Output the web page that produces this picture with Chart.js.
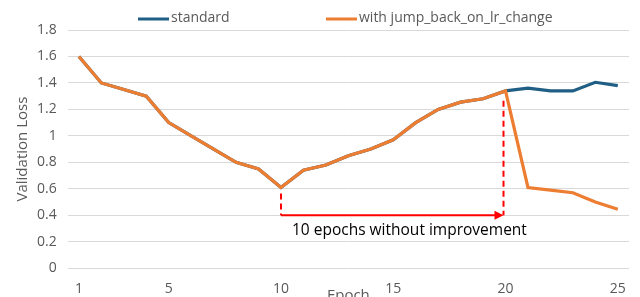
<!DOCTYPE html>
<html>
<head>
<meta charset="utf-8">
<script src="https://cdn.jsdelivr.net/npm/chart.js@4.4.1/dist/chart.umd.min.js"></script>
<style>
  html, body { margin: 0; padding: 0; background: #fff; overflow: hidden; }
  #wrap { width: 640px; height: 305px; position: relative; }
</style>
</head>
<body>
<div id="wrap"><canvas id="lossChart"></canvas></div>
<script>
const epochs = Array.from({ length: 25 }, (_, i) => String(i + 1));
const shownEpochs = ['1', '5', '10', '15', '20', '25'];

const standardLoss = [1.6, 1.4, 1.35, 1.3, 1.1, 1.0, 0.9, 0.8, 0.75, 0.61,
  0.74, 0.78, 0.85, 0.9, 0.97, 1.1, 1.2, 1.255, 1.28, 1.34,
  1.36, 1.34, 1.34, 1.405, 1.38];
const jumpBackLoss = [1.6, 1.4, 1.35, 1.3, 1.1, 1.0, 0.9, 0.8, 0.75, 0.61,
  0.74, 0.78, 0.85, 0.9, 0.97, 1.1, 1.2, 1.255, 1.28, 1.34,
  0.61, 0.59, 0.57, 0.5, 0.445];

// annotation: patience window
const bestEpoch = '10';
const stopEpoch = '20';
const arrowLevel = 0.4;
const arrowText = '10 epochs without improvement';

const FONT = "'Open Sans', 'Noto Sans', sans-serif";
const GREY = '#595959';

const annotationPlugin = {
  id: 'patience',
  afterDatasetsDraw(chart) {
    const ctx = chart.ctx;
    const x = chart.scales.x;
    const y = chart.scales.y;
    const x1 = x.getPixelForValue(epochs.indexOf(bestEpoch));
    const x2 = x.getPixelForValue(epochs.indexOf(stopEpoch)) - 2;
    const yA = y.getPixelForValue(arrowLevel);
    const y1 = y.getPixelForValue(jumpBackLoss[epochs.indexOf(bestEpoch)]) + 6;
    const y2 = y.getPixelForValue(jumpBackLoss[epochs.indexOf(stopEpoch)]) + 10;

    ctx.save();
    ctx.strokeStyle = '#ff0000';
    ctx.fillStyle = '#ff0000';
    ctx.lineWidth = 2;
    ctx.setLineDash([6, 4]);
    ctx.beginPath();
    ctx.moveTo(x1, y1); ctx.lineTo(x1, yA);
    ctx.moveTo(x2, y2); ctx.lineTo(x2, yA);
    ctx.stroke();
    ctx.setLineDash([]);
    ctx.beginPath();
    ctx.moveTo(x1, yA); ctx.lineTo(x2 - 8, yA);
    ctx.stroke();
    ctx.beginPath();
    ctx.moveTo(x2, yA);
    ctx.lineTo(x2 - 9, yA - 4.5);
    ctx.lineTo(x2 - 9, yA + 4.5);
    ctx.closePath();
    ctx.fill();

    ctx.fillStyle = '#000';
    ctx.font = '15.5px ' + FONT;
    ctx.textAlign = 'left';
    ctx.textBaseline = 'middle';
    ctx.fillText(arrowText, x1 + 11, yA + 15);
    ctx.restore();
  },
  afterDraw(chart) {
    // legend drawn like the spreadsheet one: wide, evenly spaced items
    const ctx = chart.ctx;
    const starts = [138, 326];
    ctx.save();
    ctx.font = '14px ' + FONT;
    ctx.textBaseline = 'middle';
    chart.data.datasets.forEach((ds, i) => {
      ctx.strokeStyle = ds.borderColor;
      ctx.lineWidth = 3;
      ctx.beginPath();
      ctx.moveTo(starts[i], 19);
      ctx.lineTo(starts[i] + 31, 19);
      ctx.stroke();
      ctx.fillStyle = GREY;
      ctx.fillText(ds.label, starts[i] + 33, 18);
    });
    ctx.restore();
  }
};

new Chart(document.getElementById('lossChart'), {
  type: 'line',
  data: {
    labels: epochs,
    datasets: [
      {
        label: 'standard',
        data: standardLoss,
        borderColor: '#1f5f85',
        borderWidth: 3.2,
        pointRadius: 0,
        tension: 0,
        order: 2
      },
      {
        label: 'with jump_back_on_lr_change',
        data: jumpBackLoss,
        borderColor: '#ed7d31',
        borderWidth: 3.2,
        pointRadius: 0,
        tension: 0,
        order: 1
      }
    ]
  },
  options: {
    responsive: true,
    maintainAspectRatio: false,
    animation: false,
    layout: { padding: { top: 30, right: 11, left: 14, bottom: 0 } },
    plugins: {
      legend: { display: false },
      tooltip: { enabled: false }
    },
    scales: {
      x: {
        offset: true,
        grid: { display: false },
        border: { display: false },
        ticks: {
          autoSkip: false,
          maxRotation: 0,
          color: GREY,
          font: { family: FONT, size: 14 },
          padding: 4,
          callback(v) {
            const lbl = this.getLabelForValue(v);
            return shownEpochs.includes(lbl) ? lbl : '';
          }
        },
        title: {
          display: true,
          text: 'Epoch',
          color: GREY,
          font: { family: FONT, size: 15 },
          padding: { top: -14, bottom: 0 }
        }
      },
      y: {
        min: 0,
        max: 1.8,
        grid: { color: '#d9d9d9', drawTicks: false },
        border: { display: false },
        ticks: {
          stepSize: 0.2,
          color: GREY,
          font: { family: FONT, size: 14 },
          padding: 11,
          callback: v => String(+v.toFixed(1))
        },
        title: {
          display: true,
          text: 'Validation Loss',
          color: GREY,
          font: { family: FONT, size: 15 },
          padding: { top: 0, bottom: -6 }
        }
      }
    }
  },
  plugins: [annotationPlugin]
});
</script>
</body>
</html>
